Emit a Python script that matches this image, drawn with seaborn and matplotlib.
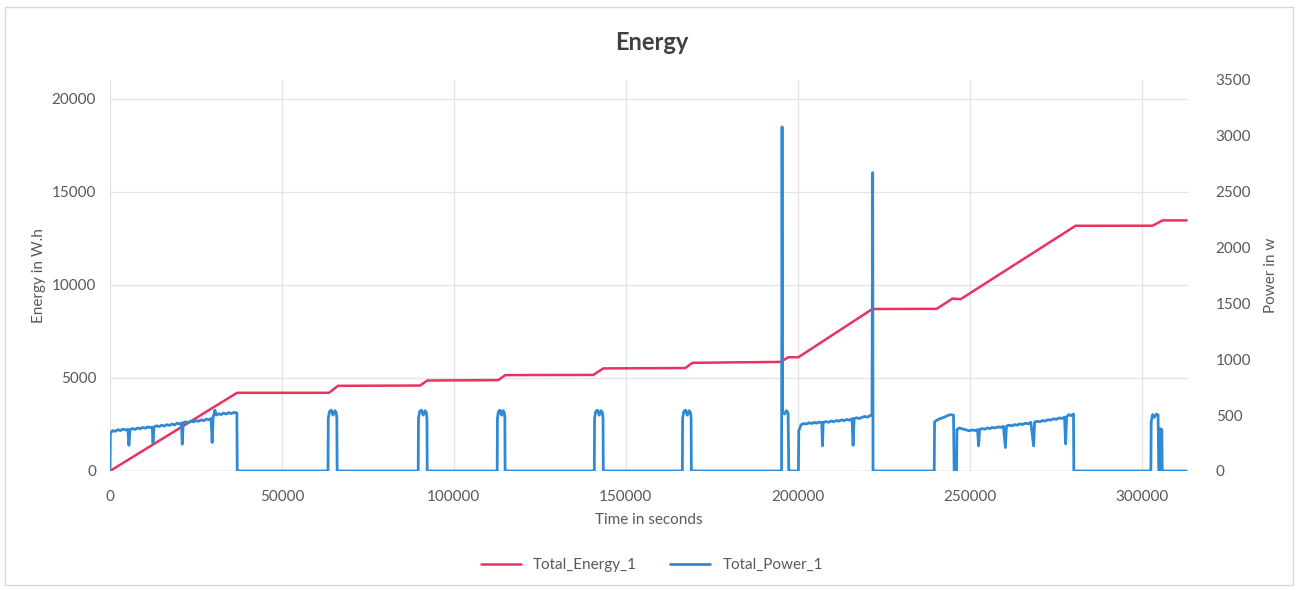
import numpy as np
import pandas as pd
import matplotlib
matplotlib.use("Agg")
import matplotlib.pyplot as plt
import seaborn as sns

# Total_Energy_1 (W.h) breakpoints
energy_t = [0, 36960, 63700, 66300, 90200, 92250, 112900, 114950, 140550,
            143460, 160900, 167300, 169400, 195000, 197300, 200200, 221700,
            240400, 245000, 247400, 280800, 303200, 306100, 313100]
energy_wh = [0, 4200, 4200, 4575, 4590, 4860, 4880, 5150, 5160,
             5510, 5525, 5530, 5810, 5860, 6110, 6110, 8700,
             8710, 9260, 9230, 13170, 13175, 13460, 13460]

# Total_Power_1 (W), one list per working period
run1_t = [0, 100, 800, 1500, 2300, 3000, 3800, 4500, 5200, 5500, 5800, 6500, 7300,
          8000, 8800, 9500, 10300, 11000, 11800, 12300, 12500, 12800, 13500, 14300,
          15000, 15800, 16500, 17300, 18000, 18800, 19500, 20300, 20800, 21000, 21300,
          22000, 22800, 23500, 24300, 25000, 25800, 26500, 27300, 28000, 28800, 29400,
          29700, 30000, 30500, 30900, 31500, 32300, 33000, 33800, 34500, 35300, 36200,
          36900, 37000]
run1_w = [0, 340, 362, 355, 370, 362, 375, 368, 372, 230, 370, 380, 372,
          385, 378, 390, 383, 395, 388, 392, 250, 395, 405, 398,
          410, 402, 415, 408, 420, 413, 428, 420, 430, 240, 432,
          440, 433, 447, 440, 452, 445, 458, 450, 465, 458, 470,
          255, 480, 545, 500, 512, 505, 518, 510, 522, 514, 525,
          518, 0]

pulse_start = [63400, 89630, 112600, 140840, 166450]
pulse_len = [2650, 2620, 2300, 2620, 2620]
pulse_shape_f = [0.0, 0.03, 0.15, 0.35, 0.55, 0.75, 0.9, 0.97, 1.0]
pulse_shape_w = [0, 470, 530, 545, 500, 540, 525, 470, 0]

run2_t = [195300, 195450, 195600, 196200, 196700, 197200, 197400]
run2_w = [0, 3080, 530, 510, 540, 520, 0]

run3_t = [200200, 200300, 201000, 201800, 202500, 203300, 204000, 204800, 205500,
          206300, 207000, 207200, 207400, 208200, 209000, 209800, 210500, 211300,
          212000, 212800, 213500, 214300, 215000, 215800, 216100, 216400, 217200,
          218000, 218800, 219500, 220300, 221000, 221600, 221800, 221900]
run3_w = [0, 360, 415, 425, 420, 432, 425, 435, 428,
          438, 432, 225, 435, 442, 436, 448, 441, 452,
          446, 458, 450, 462, 455, 468, 230, 470, 476,
          470, 482, 488, 482, 495, 505, 2670, 0]

run4_t = [239700, 239800, 240500, 241500, 242500, 243500, 244500, 245300, 245500]
run4_w = [0, 440, 455, 470, 480, 495, 505, 500, 0]

run5_t = [246200, 246300, 247000, 247800, 248500, 249300, 250000, 250800, 251500,
          252300, 252600, 252900, 253600, 254400, 255100, 255900, 256600, 257400,
          258200, 259000, 259800, 260400, 260700, 261500, 262300, 263000, 263800,
          264600, 265400, 266200, 267000, 267800, 268600, 268900, 269600, 270400,
          271200, 272000, 272800, 273600, 274400, 275200, 276000, 276800, 277600,
          277900, 278200, 278900, 279500, 280200, 280300]
run5_w = [0, 370, 385, 378, 372, 365, 360, 368, 362,
          370, 225, 372, 380, 374, 385, 380, 390, 385,
          395, 390, 400, 210, 402, 410, 404, 415, 410,
          422, 416, 428, 422, 435, 225, 438, 445, 440,
          452, 447, 460, 455, 468, 462, 475, 470, 482,
          242, 485, 505, 495, 510, 0]

run6_t = [302700, 302800, 303200, 303700, 304300, 304800, 305000, 305200, 305300,
          305900, 306000, 313000]
run6_w = [0, 440, 505, 480, 510, 500, 0, 0, 380, 370, 0, 0]

# assemble power series
power_t = list(run1_t)
power_w = list(run1_w)
for s, n in zip(pulse_start, pulse_len):
    power_t += [s + f * n for f in pulse_shape_f]
    power_w += pulse_shape_w
for t, w in [(run2_t, run2_w), (run3_t, run3_w), (run4_t, run4_w),
             (run5_t, run5_w), (run6_t, run6_w)]:
    power_t += t
    power_w += w

energy = pd.DataFrame({"t": energy_t, "E": energy_wh})
power = pd.DataFrame({"t": power_t, "P": power_w})

red = "#e8335f"
blue = "#2f8ad6"
grey = "#595959"

sns.set_style("white")
plt.rcParams["font.family"] = ["Lato", "DejaVu Sans"]

fig = plt.figure(figsize=(12.96, 5.9), dpi=100)
ax = fig.add_axes([110 / 1296, 1 - 471 / 590, (1188 - 110) / 1296, (471 - 80) / 590])
ax2 = ax.twinx()

sns.lineplot(data=energy, x="t", y="E", ax=ax, color=red, lw=1.8,
             estimator=None, sort=False, label="Total_Energy_1", legend=False)
sns.lineplot(data=power, x="t", y="P", ax=ax2, color=blue, lw=2.0,
             estimator=None, sort=False, label="Total_Power_1", legend=False)

ax.set_xlim(0, 313500)
ax.set_ylim(0, 21000)
ax2.set_ylim(0, 3500)
ax.set_xticks(np.arange(0, 300001, 50000))
ax.set_yticks(np.arange(0, 20001, 5000))
ax2.set_yticks(np.arange(0, 3501, 500))

ax.grid(True, color="#e3e3e3", lw=0.9)
ax2.grid(False)
for a in (ax, ax2):
    for sp in a.spines.values():
        sp.set_visible(False)
    a.tick_params(length=0, labelsize=11, labelcolor=grey)
ax.tick_params(axis="x", pad=14)
ax.tick_params(axis="y", pad=10)
ax2.tick_params(axis="y", pad=20)
ax.axhline(0, color="#d9d9d9", lw=1.0, zorder=0)

ax.set_xlabel("Time in seconds", fontsize=11, color=grey, labelpad=6)
ax.set_ylabel("Energy in W.h", fontsize=11, color=grey)
ax2.set_ylabel("Power in w", fontsize=11, color=grey)
ax.yaxis.set_label_coords(-(110 - 46) / 1078, 0.5)
ax2.yaxis.set_label_coords((1264 - 110) / 1078, 0.5)

fig.text(0.503, 0.928, "Energy", ha="center", va="center", fontsize=17,
         fontweight="bold", color="#404040")

h1, l1 = ax.get_legend_handles_labels()
h2, l2 = ax2.get_legend_handles_labels()
fig.legend(h1 + h2, l1 + l2, loc="center", bbox_to_anchor=(0.503, 0.042),
           ncol=2, frameon=False, fontsize=11, labelcolor=grey,
           handlelength=2.6, columnspacing=2.2)

fig.patches.append(plt.Rectangle((5 / 1296, 5 / 590), 1288 / 1296, 578 / 590,
                                 transform=fig.transFigure, fill=False,
                                 edgecolor="#d9d9d9", lw=1.0))

fig.savefig("out.png", dpi=100)
